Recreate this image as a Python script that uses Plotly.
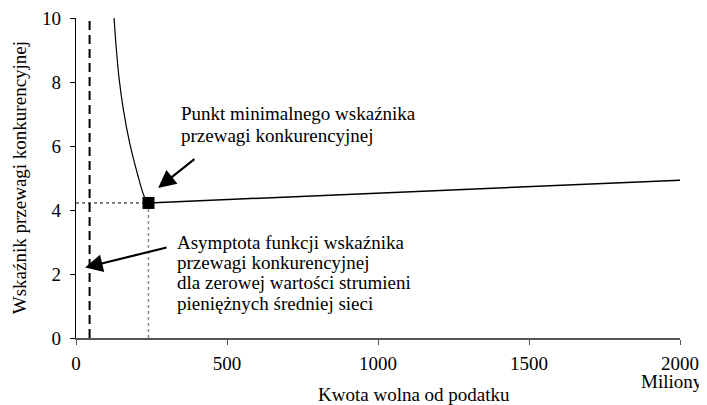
import plotly.graph_objects as go

# Data
left_x = [126, 132, 142, 157, 178, 206, 226, 240]
left_y = [10.02, 9.21, 8.17, 7.13, 6.08, 5.04, 4.42, 4.22]
right_x = [240, 2000]
right_y = [4.22, 4.93]
min_x = [240]
min_y = [4.22]
asymptote_x = 45
x_ticks = [0, 500, 1000, 1500, 2000]
y_ticks = [0, 2, 4, 6, 8, 10]

note1_lines = ["Punkt minimalnego wskaźnika", "przewagi konkurencyjnej"]
note1_y = [7.03, 6.34]
note2_lines = ["Asymptota funkcji wskaźnika", "przewagi konkurencyjnej",
               "dla zerowej wartości strumieni", "pieniężnych średniej sieci"]
note2_y = [3.0, 2.36, 1.72, 1.08]

FONT = "Liberation Serif, Times New Roman, serif"
FS = 19

fig = go.Figure()

# dotted guide lines to the minimum point
fig.add_trace(go.Scatter(x=[0, min_x[0]], y=[min_y[0], min_y[0]], mode="lines",
                         line=dict(color="black", width=1, dash="dot"), hoverinfo="skip"))
fig.add_trace(go.Scatter(x=[min_x[0], min_x[0]], y=[0, min_y[0]], mode="lines",
                         line=dict(color="#888888", width=1.5, dash="dot"), hoverinfo="skip"))
# asymptote
fig.add_trace(go.Scatter(x=[asymptote_x, asymptote_x], y=[0, 10], mode="lines",
                         line=dict(color="black", width=2, dash="9px,5px"), hoverinfo="skip"))
# main curve
fig.add_trace(go.Scatter(x=left_x, y=left_y, mode="lines",
                         line=dict(color="black", width=1.2, shape="spline", smoothing=0.8)))
fig.add_trace(go.Scatter(x=right_x, y=right_y, mode="lines",
                         line=dict(color="black", width=1.5)))
# minimum marker
fig.add_trace(go.Scatter(x=min_x, y=min_y, mode="markers",
                         marker=dict(symbol="square", size=12, color="black")))

# arrows
fig.add_annotation(x=272, y=4.69, ax=397, ay=5.63, xref="x", yref="y", axref="x", ayref="y",
                   text="", showarrow=True, arrowhead=2, arrowsize=1.6, arrowwidth=2.2,
                   arrowcolor="black")
fig.add_annotation(x=30, y=2.2, ax=305, ay=2.84, xref="x", yref="y", axref="x", ayref="y",
                   text="", showarrow=True, arrowhead=2, arrowsize=1.6, arrowwidth=2.2,
                   arrowcolor="black")

# texts (one annotation per line for tight line spacing)
for t, yy in zip(note1_lines, note1_y):
    fig.add_annotation(x=341, y=yy, xref="x", yref="y", xanchor="left", yanchor="middle",
                       showarrow=False, text=t,
                       font=dict(family=FONT, size=FS, color="black"))
for t, yy in zip(note2_lines, note2_y):
    fig.add_annotation(x=328, y=yy, xref="x", yref="y", xanchor="left", yanchor="middle",
                       showarrow=False, text=t,
                       font=dict(family=FONT, size=FS, color="black"))

fig.add_annotation(x=1.0, y=-0.137, xref="paper", yref="paper", xanchor="right", yanchor="middle",
                   xshift=25, showarrow=False, text="Miliony",
                   font=dict(family=FONT, size=FS, color="black"))
fig.add_annotation(x=0.56, y=-0.178, xref="paper", yref="paper", xanchor="center", yanchor="middle",
                   showarrow=False, text="Kwota wolna od podatku",
                   font=dict(family=FONT, size=FS, color="black"))
fig.add_annotation(x=-0.094, y=0.5, xref="paper", yref="paper", xanchor="center", yanchor="middle",
                   showarrow=False, text="Wskaźnik przewagi konkurencyjnej", textangle=-90,
                   font=dict(family=FONT, size=FS, color="black"))

# page body has an 8px default margin: figure is sized/margined to compensate
fig.update_layout(
    width=699, height=397,
    margin=dict(l=68, r=27, t=10, b=67, autoexpand=False),
    paper_bgcolor="white", plot_bgcolor="white",
    showlegend=False,
    font=dict(family=FONT, size=FS, color="black"),
    xaxis=dict(range=[0, 2000], tickvals=x_ticks, showgrid=False, zeroline=False,
               showline=True, linecolor="#555555", linewidth=1.5,
               ticks="outside", ticklen=5, tickcolor="#555555",
               automargin=False, ticklabeloverflow="allow", ticklabelstandoff=2,
               tickfont=dict(family=FONT, size=FS)),
    yaxis=dict(range=[0, 10], tickvals=y_ticks, showgrid=False, zeroline=False,
               showline=True, linecolor="black", linewidth=1.2,
               ticks="outside", ticklen=5, tickcolor="black",
               automargin=False, ticklabeloverflow="allow", ticklabelstandoff=5,
               tickfont=dict(family=FONT, size=FS)),
)

fig.write_html("out.html")
